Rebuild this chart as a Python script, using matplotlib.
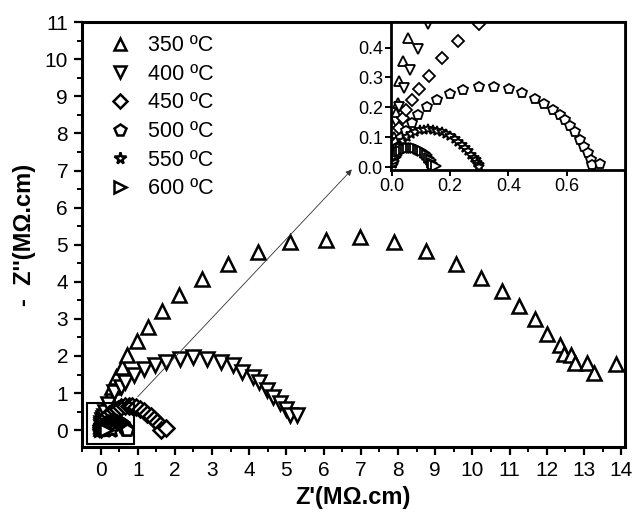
import matplotlib
matplotlib.use("Agg")
import matplotlib.pyplot as plt
from matplotlib.patches import Rectangle
from matplotlib.ticker import MultipleLocator, FormatStrFormatter, FixedLocator

plt.rcParams['font.family'] = ['Liberation Sans', 'DejaVu Sans']

labels = ["350 ºC", "400 ºC", "450 ºC", "500 ºC", "550 ºC", "600 ºC"]
markers = ["^", "v", "D", "p", "*", ">"]

x350 = [0.005, 0.008, 0.011, 0.014, 0.019, 0.025, 0.036, 0.054, 0.09, 0.13, 0.22, 0.31, 0.43, 0.58,
        0.71, 0.97, 1.27, 1.65, 2.11, 2.73, 3.42, 4.24, 5.09, 6.06, 6.98, 7.90, 8.76, 9.57, 10.24,
        10.80, 11.26, 11.69, 12.01, 12.35, 12.46, 12.65, 12.77, 13.07, 13.27, 13.87]
y350 = [0.05, 0.10, 0.15, 0.18, 0.215, 0.287, 0.355, 0.433, 0.53, 0.63, 0.90, 1.17, 1.44, 1.71,
        2.02, 2.40, 2.79, 3.21, 3.64, 4.07, 4.49, 4.81, 5.08, 5.14, 5.21, 5.07, 4.82, 4.49, 4.10,
        3.74, 3.34, 3.00, 2.59, 2.30, 2.05, 2.03, 1.82, 1.82, 1.55, 1.78]

x400 = [0.008, 0.015, 0.025, 0.042, 0.062, 0.088, 0.122, 0.2, 0.36, 0.54, 0.67, 0.91, 1.18, 1.47,
        1.77, 2.13, 2.48, 2.86, 3.24, 3.56, 3.80, 4.09, 4.27, 4.47, 4.65, 4.83, 5.00, 5.09, 5.29]
y400 = [0.08, 0.15, 0.20, 0.265, 0.324, 0.394, 0.478, 0.70, 1.03, 1.17, 1.30, 1.48, 1.64, 1.75,
        1.84, 1.93, 1.98, 1.93, 1.84, 1.75, 1.57, 1.44, 1.30, 1.08, 0.90, 0.72, 0.58, 0.40, 0.40]

x450 = [0.005, 0.012, 0.025, 0.036, 0.048, 0.068, 0.093, 0.127, 0.171, 0.228, 0.298, 0.38, 0.47,
        0.56, 0.66, 0.76, 0.86, 0.96, 1.06, 1.16, 1.26, 1.35, 1.44, 1.52, 1.60, 1.64, 1.76]
y450 = [0.03, 0.08, 0.13, 0.164, 0.192, 0.223, 0.262, 0.306, 0.366, 0.422, 0.478, 0.53, 0.58,
        0.62, 0.65, 0.66, 0.65, 0.62, 0.57, 0.51, 0.44, 0.37, 0.29, 0.21, 0.13, 0.0, 0.06]

x500 = [0.004, 0.010, 0.019, 0.031, 0.048, 0.067, 0.090, 0.119, 0.154, 0.199, 0.245, 0.298, 0.349,
        0.403, 0.448, 0.491, 0.523, 0.554, 0.577, 0.594, 0.611, 0.628, 0.645, 0.659, 0.673, 0.683,
        0.688, 0.713]
y500 = [0.015, 0.040, 0.068, 0.097, 0.122, 0.149, 0.175, 0.201, 0.226, 0.245, 0.259, 0.268, 0.268,
        0.262, 0.248, 0.229, 0.212, 0.192, 0.175, 0.158, 0.138, 0.119, 0.091, 0.068, 0.046, 0.024,
        0.007, 0.012]

x550 = [0.003, 0.008, 0.015, 0.025, 0.037, 0.05, 0.065, 0.08, 0.095, 0.11, 0.125, 0.14, 0.155, 0.17,
        0.185, 0.20, 0.215, 0.228, 0.24, 0.252, 0.262, 0.272, 0.28, 0.287, 0.293, 0.298, 0.30]
y550 = [0.01, 0.03, 0.05, 0.07, 0.088, 0.10, 0.11, 0.118, 0.123, 0.125, 0.126, 0.125, 0.122, 0.118,
        0.112, 0.104, 0.095, 0.085, 0.075, 0.064, 0.053, 0.042, 0.032, 0.023, 0.014, 0.006, 0.002]

x600 = [0.002, 0.006, 0.012, 0.018, 0.025, 0.032, 0.04, 0.048, 0.056, 0.064, 0.072, 0.08, 0.088,
        0.096, 0.104, 0.112, 0.12, 0.127, 0.133, 0.138, 0.142, 0.15]
y600 = [0.01, 0.022, 0.033, 0.042, 0.05, 0.055, 0.059, 0.062, 0.064, 0.065, 0.065, 0.064, 0.062,
        0.058, 0.053, 0.047, 0.039, 0.031, 0.023, 0.015, 0.008, 0.005]

inset_xticks = [0.0, 0.2, 0.4, 0.6]
inset_yticks = [0.0, 0.1, 0.2, 0.3, 0.4]

series = [(x350, y350), (x400, y400), (x450, y450), (x500, y500), (x550, y550), (x600, y600)]
main_ms = [10, 10.5, 8, 9, 10, 9]
ins_ms = [7, 7, 6, 7, 7, 6.5]

fig = plt.figure(figsize=(6.35, 5.17), dpi=100)
ax = fig.add_axes([0.129, 0.135, 0.855, 0.822])

for (xs, ys), m, ms, lab in zip(series, markers, main_ms, labels):
    ax.plot(xs, ys, linestyle='none', marker=m, ms=ms, mfc='white', mec='black', mew=1.8)

ax.set_xlim(-0.5, 14.1)
ax.set_ylim(-0.46, 11)
ax.xaxis.set_major_locator(MultipleLocator(1))
ax.xaxis.set_minor_locator(MultipleLocator(0.5))
ax.yaxis.set_major_locator(MultipleLocator(1))
ax.yaxis.set_minor_locator(MultipleLocator(0.5))
ax.tick_params(which='major', direction='out', length=6, width=1.6, labelsize=15, pad=4)
ax.tick_params(which='minor', direction='out', length=3.5, width=1.4)
for s in ax.spines.values():
    s.set_linewidth(2.2)
ax.set_xlabel("Z'(MΩ.cm)", fontsize=17, fontweight='bold', labelpad=4)
ax.set_ylabel("-  Z''(MΩ.cm)", fontsize=17, fontweight='bold', labelpad=6)

ax.add_patch(Rectangle((-0.35, -0.38), 1.26, 1.11, fill=False, ec='black', lw=1.5, zorder=5))
ax.annotate("", xy=(6.76, 7.03), xytext=(1.0, 0.9),
            arrowprops=dict(arrowstyle='-|>', color='#333333', lw=0.6, mutation_scale=9,
                            shrinkA=0, shrinkB=0))

leg_handles = []
for m, lab in zip(markers, labels):
    h, = ax.plot([], [], linestyle='none', marker=m, ms=8.5 if m != 'D' else 7, mfc='white',
                 mec='black', mew=1.8, label=lab)
    leg_handles.append(h)
ax.legend(handles=leg_handles, loc='upper left', bbox_to_anchor=(0.027, 1.0), frameon=False,
          fontsize=15.5, handlelength=1.0, handletextpad=0.8, labelspacing=0.355,
          borderaxespad=0.2)

ins = fig.add_axes([0.616, 0.671, 0.368, 0.286])
for (xs, ys), m, ms in zip(series, markers, ins_ms):
    ins.plot(xs, ys, linestyle='none', marker=m, ms=ms, mfc='white', mec='black', mew=1.3)
ins.set_xlim(-0.003, 0.8)
ins.set_ylim(-0.01, 0.485)
ins.xaxis.set_major_locator(FixedLocator(inset_xticks))
ins.yaxis.set_major_locator(FixedLocator(inset_yticks))
ins.xaxis.set_major_formatter(FormatStrFormatter('%.1f'))
ins.yaxis.set_major_formatter(FormatStrFormatter('%.1f'))
ins.tick_params(direction='out', length=4, width=1.4, labelsize=13, pad=2)
for s in ins.spines.values():
    s.set_linewidth(2.0)

fig.savefig("out.png", dpi=100)
